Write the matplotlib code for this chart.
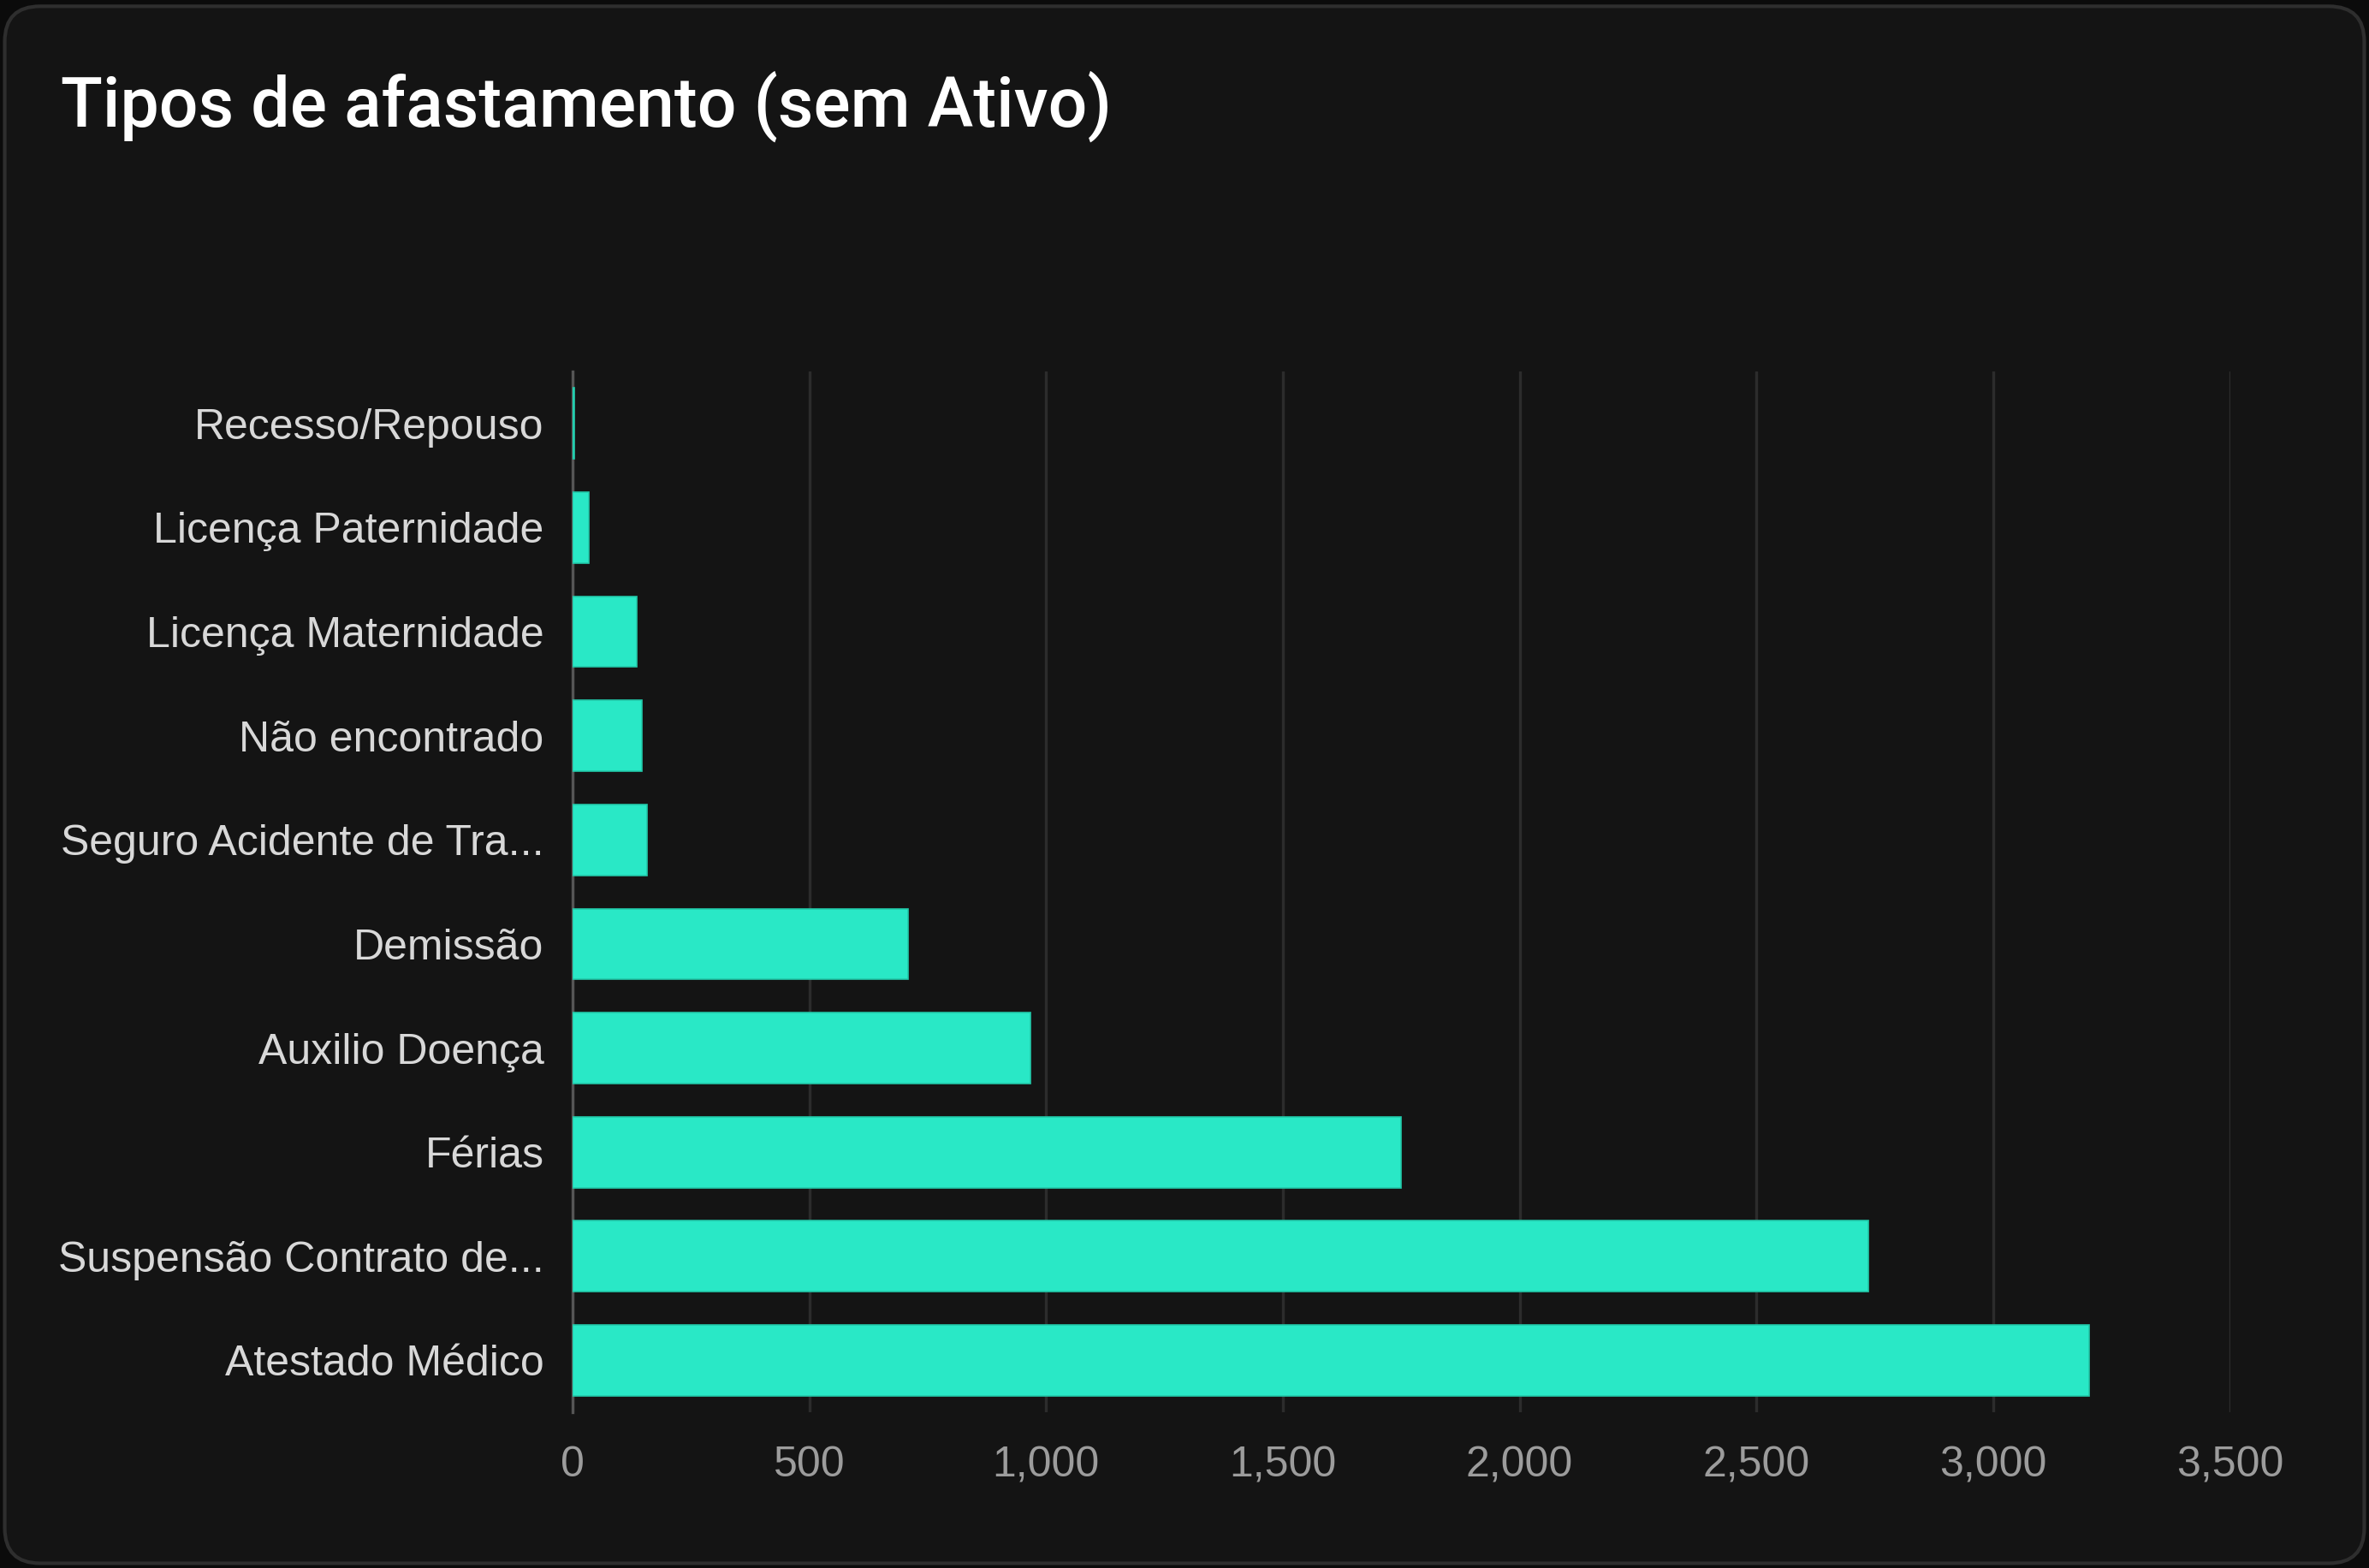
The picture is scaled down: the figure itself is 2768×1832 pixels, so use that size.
import matplotlib
matplotlib.use('Agg')
from matplotlib import pyplot as plt
from matplotlib.patches import FancyBboxPatch
from matplotlib.ticker import FuncFormatter
import numpy as np

categories = ['Recesso/Repouso', 'Licença Paternidade', 'Licença Maternidade',
              'Não encontrado', 'Seguro Acidente de Tra...', 'Demissão',
              'Auxilio Doença', 'Férias', 'Suspensão Contrato de...', 'Atestado Médico']
values = [3, 35, 135, 147, 157, 708, 967, 1750, 2737, 3202]
xticks = [0, 500, 1000, 1500, 2000, 2500, 3000, 3500]

fig = plt.figure(figsize=(13.84, 9.16), dpi=200, facecolor='#0b0b0b')

card = FancyBboxPatch((0.002, 0.003), 0.996, 0.993,
                      boxstyle='round,pad=0,rounding_size=0.015',
                      transform=fig.transFigure, facecolor='#141414',
                      edgecolor='#2e2e2e', linewidth=1.5, mutation_aspect=1.5,
                      zorder=-10)
fig.patches.append(card)

fig.text(0.0255, 0.932, 'Tipos de afastamento (sem Ativo)', color='white',
         fontsize=29, fontfamily='Roboto', fontweight='medium', va='center', ha='left')

ax = fig.add_axes([0.2417, 0.0992, 0.6996, 0.664])
ax.set_facecolor('none')

y = np.arange(len(categories))
ax.barh(y, values, height=0.68, color='#29e8c6', edgecolor='#22c9aa', linewidth=0.6, zorder=3)

ax.set_xlim(0, 3500)
ax.set_ylim(len(categories) - 0.5, -0.5)
ax.set_yticks(y)
ax.set_yticklabels(categories)
ax.set_xticks(xticks)
ax.xaxis.set_major_formatter(FuncFormatter(lambda v, p: f'{int(v):,}'))

ax.grid(axis='x', color='#2c2c2c', linewidth=1.2, zorder=0)
for s in ['top', 'right', 'bottom']:
    ax.spines[s].set_visible(False)
ax.spines['left'].set_color('#555555')
ax.spines['left'].set_linewidth(1.2)

ax.tick_params(axis='y', length=0, pad=12, labelsize=18, labelcolor='#d8d8d8')
ax.tick_params(axis='x', length=0, pad=14, labelsize=18, labelcolor='#9c9c9c')
for lab in ax.get_xticklabels() + ax.get_yticklabels():
    lab.set_fontfamily('Liberation Sans')

fig.savefig('out.png', dpi=200, facecolor=fig.get_facecolor())
